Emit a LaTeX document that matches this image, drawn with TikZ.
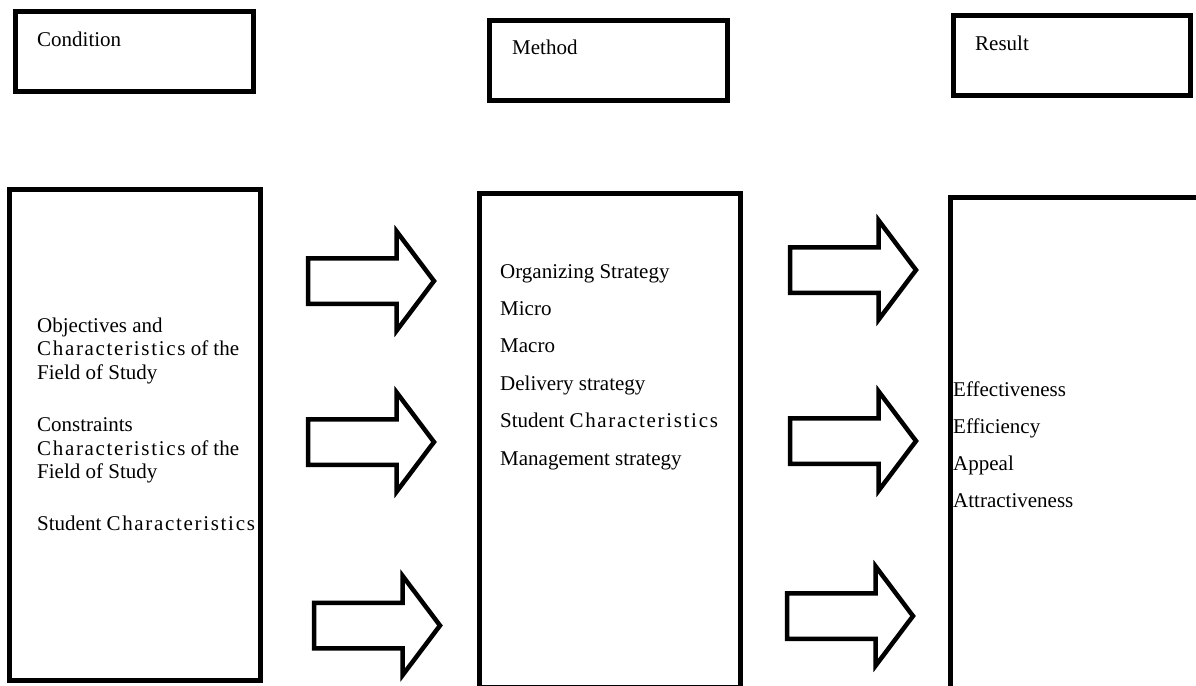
\documentclass[tikz,border=0pt]{standalone}
\usepackage{fontspec}
\setmainfont{Liberation Serif}
\usetikzlibrary{shapes.arrows}
\newcommand{\widetext}[1]{{\addfontfeature{LetterSpace=8}#1}}
\tikzstyle{head box}=[
        draw,
        line width = 5pt,
        outer sep = 0pt,
        inner sep = 0pt,
        minimum width = 238pt,
        minimum height = 80pt,
        anchor = north west
    ]
\tikzstyle{main box}=[
    draw,
    line width = 5pt,
    outer sep = 0pt,
    inner sep = 0pt,
    anchor = north west
]
\tikzstyle{fat arrow}=[
    single arrow,
    draw,
    line width = 4.5pt,
    inner xsep = 0pt,
    inner ysep = 20.5pt,
    outer sep = 0pt,
    single arrow head extend = 26.75pt,
    single arrow tip angle = 106,
    minimum height = 126pt,
    anchor = tail
]
\tikzstyle{box text}=[
    inner sep = 0pt,
    anchor = base west,
    align = left,
    font = \fontsize{21pt}{23.5pt}\selectfont
]

\begin{document}
\begin{tikzpicture}[x=1pt, y=-1pt]
        \useasboundingbox (0,0) rectangle (1196,685);

        \node[head box] (condition) at (15.5,11.5) {};
        \node[head box] (method) at (489.5,20.5) {};
        \node[head box, minimum width = 237pt] (result) at (953.5,15.5) {};
        \node[box text] (condition text) at (37,47) {Condition};
        \node[box text] (method text) at (512,55) {Method};
        \node[box text] (result text) at (975,51) {Result};

        \node[main box, minimum width = 251pt, minimum height = 491pt] (conditions) at (9.5,189.5) {};
        \node[main box, minimum width = 261pt, minimum height = 494pt] (methods) at (479.5,193.5) {};
        \node[main box, minimum width = 270pt, minimum height = 500pt] (results) at (950,197.5) {};

        % base anchor sits on the last line
        \node[box text] (condition list) at (37,530) {Objectives and\\\widetext{Characteristics} of the\\Field of Study\\[29pt]Constraints\\\widetext{Characteristics} of the\\Field of Study\\[28pt]Student \widetext{Characteristics}};
        \node[box text, font = \fontsize{21pt}{37.4pt}\selectfont] (method list) at (500,465) {Organizing Strategy\\Micro\\Macro\\Delivery strategy\\Student \widetext{Characteristics}\\Management strategy};
        \node[box text, font = \fontsize{21pt}{36.7pt}\selectfont] (result list) at (953,507) {Effectiveness\\Efficiency\\Appeal\\Attractiveness};

        \node[fat arrow] (a1) at (308,281) {};
        \node[fat arrow] (a2) at (308,442) {};
        \node[fat arrow] (a3) at (314,625.5) {};
        \node[fat arrow] (b1) at (790,270) {};
        \node[fat arrow] (b2) at (790,441) {};
        \node[fat arrow] (b3) at (787,616) {};

    \end{tikzpicture}
\end{document}
